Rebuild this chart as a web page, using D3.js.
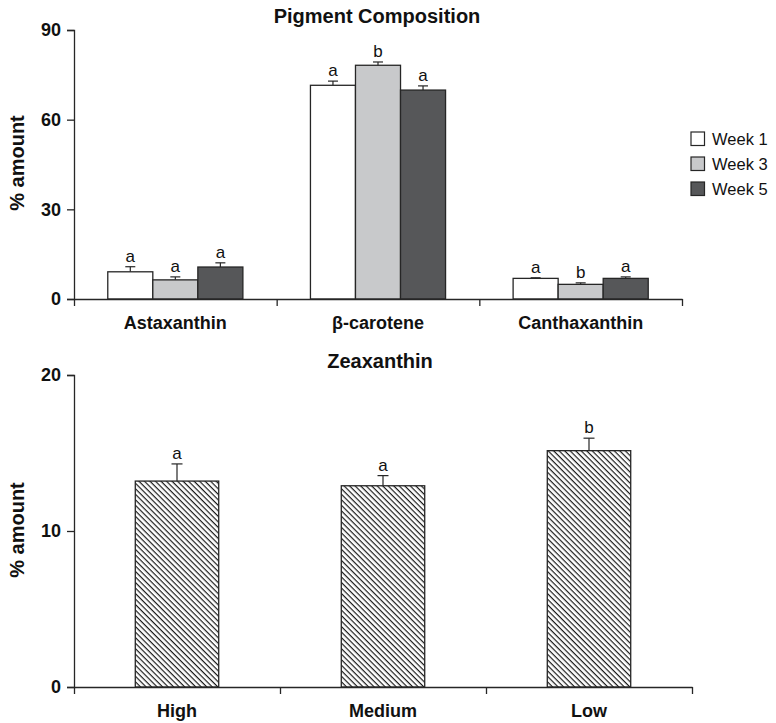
<!DOCTYPE html>
<html>
<head>
<meta charset="utf-8">
<script src="https://cdn.jsdelivr.net/npm/d3@7"></script>
<style>
  body { margin: 0; background: #fff; }
  svg { font-family: "Liberation Sans", Arial, sans-serif; }
</style>
</head>
<body>
<div id="chart"></div>
<script>
// Pigment composition (top panel)
const pigments = ["Astaxanthin", "β-carotene", "Canthaxanthin"];
const weeks = ["Week 1", "Week 3", "Week 5"];
const weekColors = ["#ffffff", "#c8c9cb", "#565759"];
const week1 = [9.1, 71.5, 6.9];
const week3 = [6.4, 78.2, 4.9];
const week5 = [10.7, 69.9, 6.9];
const week1Err = [1.7, 1.4, 0.2];
const week3Err = [1.0, 1.1, 0.5];
const week5Err = [1.4, 1.4, 0.5];
const week1Sig = ["a", "a", "a"];
const week3Sig = ["a", "b", "b"];
const week5Sig = ["a", "a", "a"];
const topTicks = [0, 30, 60, 90];

// Zeaxanthin (bottom panel)
const levels = ["High", "Medium", "Low"];
const zeaValues = [13.2, 12.9, 15.15];
const zeaErr = [1.1, 0.65, 0.8];
const zeaSig = ["a", "a", "b"];
const bottomTicks = [0, 10, 20];

const width = 776, height = 723;
const svg = d3.select("#chart").append("svg")
  .attr("width", width)
  .attr("height", height);

const ink = "#262626";

// hatch pattern for the zeaxanthin bars
const hs = 3.9;
const pattern = svg.append("defs").append("pattern")
  .attr("id", "hatch")
  .attr("patternUnits", "userSpaceOnUse")
  .attr("width", hs)
  .attr("height", hs)
  .attr("patternTransform", "rotate(45)");
pattern.append("rect").attr("width", hs).attr("height", hs).attr("fill", "#fff");
pattern.append("line")
  .attr("x1", 0).attr("y1", 0).attr("x2", hs).attr("y2", 0)
  .attr("stroke", "#1a1a1a").attr("stroke-width", 2.4);

function drawAxes(g, x, y, ticks, cats, x0, x1, y0) {
  // y axis
  g.append("g")
    .attr("transform", `translate(${x0},0)`)
    .call(d3.axisLeft(y).tickValues(ticks).tickSize(7).tickPadding(6))
    .call((a) => a.selectAll("line, path").attr("stroke", ink).attr("stroke-width", 1.3))
    .call((a) => a.selectAll("text")
      .attr("font-size", 18).attr("font-weight", "bold").attr("fill", "#111")
      .attr("font-family", "Liberation Sans, Arial, sans-serif"));

  // x axis with ticks at category boundaries
  const bounds = d3.scaleLinear().domain([0, cats.length]).range([x0, x1]);
  g.append("g")
    .attr("transform", `translate(0,${y0})`)
    .call(d3.axisBottom(bounds).tickValues(d3.range(cats.length + 1))
      .tickFormat("").tickSize(7).tickSizeOuter(0))
    .call((a) => a.selectAll("line, path").attr("stroke", ink).attr("stroke-width", 1.3));

  g.append("g")
    .selectAll("text")
    .data(cats)
    .join("text")
      .attr("x", (d) => x(d) + x.bandwidth() / 2)
      .attr("y", y0 + 30)
      .attr("text-anchor", "middle")
      .attr("font-size", 18)
      .attr("font-weight", "bold")
      .attr("fill", "#111")
      .text((d) => d);
}

function yLabel(g, cy) {
  g.append("text")
    .attr("transform", `translate(24,${cy}) rotate(-90)`)
    .attr("text-anchor", "middle")
    .attr("font-size", 20)
    .attr("font-weight", "bold")
    .attr("fill", "#111")
    .text("% amount");
}

// ---------- top panel ----------
const topPanel = svg.append("g");
const tx0 = 74, tx1 = 682, ty0 = 299, ty1 = 30;

const xTop = d3.scaleBand().domain(pigments).range([tx0, tx1]);
const xWeek = d3.scaleBand().domain(weeks).range([0, xTop.bandwidth()]).paddingOuter(0.75);
const yTop = d3.scaleLinear().domain([0, 90]).range([ty0, ty1]);

const topData = [];
pigments.forEach((p, i) => {
  [[week1, week1Err, week1Sig], [week3, week3Err, week3Sig], [week5, week5Err, week5Sig]]
    .forEach(([v, e, s], j) => {
      topData.push({ pigment: p, week: weeks[j], color: weekColors[j], value: v[i], err: e[i], sig: s[i] });
    });
});

const bars = topPanel.append("g")
  .selectAll("g")
  .data(topData)
  .join("g")
    .attr("transform", (d) => `translate(${xTop(d.pigment) + xWeek(d.week)},0)`);

bars.append("line")
  .attr("x1", xWeek.bandwidth() / 2).attr("x2", xWeek.bandwidth() / 2)
  .attr("y1", (d) => yTop(d.value)).attr("y2", (d) => yTop(d.value + d.err))
  .attr("stroke", ink).attr("stroke-width", 1.2);
bars.append("line")
  .attr("x1", xWeek.bandwidth() / 2 - 5).attr("x2", xWeek.bandwidth() / 2 + 5)
  .attr("y1", (d) => yTop(d.value + d.err)).attr("y2", (d) => yTop(d.value + d.err))
  .attr("stroke", ink).attr("stroke-width", 1.2);
bars.append("rect")
  .attr("y", (d) => yTop(d.value))
  .attr("width", xWeek.bandwidth())
  .attr("height", (d) => ty0 - yTop(d.value))
  .attr("fill", (d) => d.color)
  .attr("stroke", ink)
  .attr("stroke-width", 1.3);
bars.append("text")
  .attr("x", xWeek.bandwidth() / 2)
  .attr("y", (d) => yTop(d.value + d.err) - 5)
  .attr("text-anchor", "middle")
  .attr("font-size", 17)
  .attr("fill", "#111")
  .text((d) => d.sig);

drawAxes(topPanel, xTop, yTop, topTicks, pigments, tx0, tx1, ty0);
yLabel(topPanel, 163);

topPanel.append("text")
  .attr("x", 377).attr("y", 23)
  .attr("text-anchor", "middle")
  .attr("font-size", 20).attr("font-weight", "bold").attr("fill", "#111")
  .text("Pigment Composition");

// legend
const legend = topPanel.append("g")
  .selectAll("g")
  .data(weeks)
  .join("g")
    .attr("transform", (d, i) => `translate(691,${132 + i * 25})`);
legend.append("rect")
  .attr("width", 13.5).attr("height", 13.5)
  .attr("fill", (d, i) => weekColors[i])
  .attr("stroke", ink).attr("stroke-width", 1.2);
legend.append("text")
  .attr("x", 21).attr("y", 13)
  .attr("font-size", 16.5).attr("fill", "#111")
  .text((d) => d);

// ---------- bottom panel ----------
const botPanel = svg.append("g");
const bx0 = 74, bx1 = 692, by0 = 687, by1 = 375;

const xBot = d3.scaleBand().domain(levels).range([bx0, bx1]);
const yBot = d3.scaleLinear().domain([0, 20]).range([by0, by1]);
const barW = xBot.bandwidth() * 0.405;
const zeaData = levels.map((l, i) => ({ level: l, value: zeaValues[i], err: zeaErr[i], sig: zeaSig[i] }));

const zBars = botPanel.append("g")
  .selectAll("g")
  .data(zeaData)
  .join("g")
    .attr("transform", (d) => `translate(${xBot(d.level) + xBot.bandwidth() / 2},0)`);

zBars.append("line")
  .attr("x1", 0).attr("x2", 0)
  .attr("y1", (d) => yBot(d.value)).attr("y2", (d) => yBot(d.value + d.err))
  .attr("stroke", ink).attr("stroke-width", 1.2);
zBars.append("line")
  .attr("x1", -5.5).attr("x2", 5.5)
  .attr("y1", (d) => yBot(d.value + d.err)).attr("y2", (d) => yBot(d.value + d.err))
  .attr("stroke", ink).attr("stroke-width", 1.2);
zBars.append("rect")
  .attr("x", -barW / 2)
  .attr("y", (d) => yBot(d.value))
  .attr("width", barW)
  .attr("height", (d) => by0 - yBot(d.value))
  .attr("fill", "url(#hatch)")
  .attr("stroke", ink)
  .attr("stroke-width", 1.3);
zBars.append("text")
  .attr("y", (d) => yBot(d.value + d.err) - 5)
  .attr("text-anchor", "middle")
  .attr("font-size", 17)
  .attr("fill", "#111")
  .text((d) => d.sig);

drawAxes(botPanel, xBot, yBot, bottomTicks, levels, bx0, bx1, by0);
yLabel(botPanel, 530);

botPanel.append("text")
  .attr("x", 380).attr("y", 368)
  .attr("text-anchor", "middle")
  .attr("font-size", 20).attr("font-weight", "bold").attr("fill", "#111")
  .text("Zeaxanthin");
</script>
</body>
</html>
